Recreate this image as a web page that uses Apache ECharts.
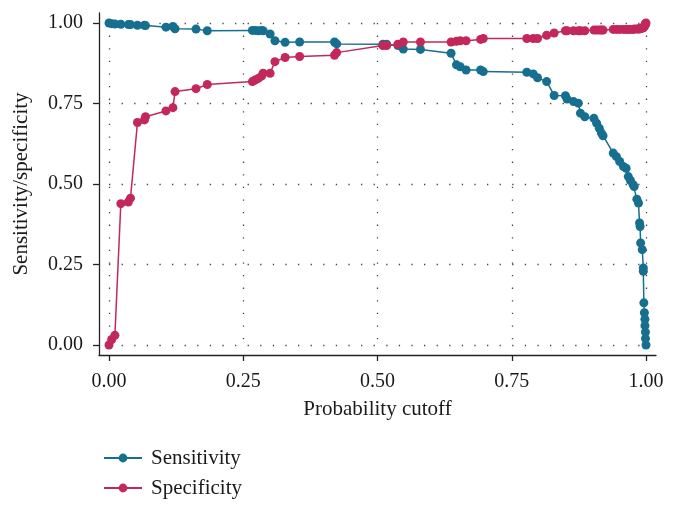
<!DOCTYPE html>
<html>
<head>
<meta charset="utf-8">
<script src="https://cdn.jsdelivr.net/npm/echarts@6/dist/echarts.min.js"></script>
<style>html,body{margin:0;padding:0;background:#fff}#c{width:676px;height:509px}</style>
</head>
<body>
<div id="c"></div>
<script>
// Probability cutoffs (shared by both curves)
var cutoffs = [0.000,0.005,0.011,0.022,0.036,0.040,0.053,0.066,0.068,0.106,0.119,0.123,0.162,0.183,
  0.267,0.272,0.278,0.284,0.287,0.300,0.309,0.328,0.355,0.420,0.424,0.510,0.517,0.538,0.548,0.580,
  0.637,0.647,0.654,0.665,0.692,0.697,0.778,0.790,0.798,0.815,0.829,0.850,0.853,0.865,0.874,0.878,
  0.886,0.903,0.908,0.913,0.917,0.920,0.939,0.945,0.951,0.958,0.963,0.967,0.971,0.976,0.978,0.983,
  0.986,0.988,0.989,0.990,0.993,0.995,0.995,0.996,0.997,0.998,0.998,0.999,0.999,1.000];
var sensitivity = [1.000,0.998,0.997,0.996,0.995,0.995,0.993,0.993,0.992,0.987,0.989,0.982,0.981,0.976,
  0.977,0.977,0.976,0.977,0.976,0.966,0.945,0.940,0.941,0.941,0.935,0.934,0.934,0.930,0.919,0.918,
  0.906,0.870,0.864,0.854,0.854,0.849,0.847,0.842,0.830,0.818,0.775,0.774,0.764,0.756,0.751,0.720,
  0.709,0.704,0.689,0.673,0.658,0.650,0.596,0.585,0.570,0.554,0.549,0.523,0.511,0.498,0.492,0.453,
  0.441,0.379,0.368,0.317,0.296,0.239,0.229,0.131,0.100,0.080,0.060,0.040,0.020,0.000];
var specificity = [0.000,0.017,0.030,0.439,0.444,0.456,0.691,0.699,0.709,0.727,0.737,0.787,0.796,0.809,
  0.818,0.823,0.828,0.835,0.844,0.844,0.880,0.893,0.896,0.900,0.908,0.930,0.930,0.934,0.941,0.941,
  0.941,0.943,0.945,0.945,0.949,0.952,0.952,0.952,0.952,0.962,0.969,0.976,0.976,0.976,0.976,0.976,
  0.976,0.978,0.978,0.978,0.978,0.978,0.980,0.980,0.980,0.980,0.980,0.980,0.980,0.980,0.981,0.981,
  0.981,0.982,0.982,0.983,0.984,0.985,0.986,0.988,0.990,0.992,0.994,0.996,0.998,1.000];
var tickValues = [0, 0.25, 0.5, 0.75, 1];
var seriesNames = ['Sensitivity', 'Specificity'];
var colors = ['#176F90', '#C2285A'];

function pairs(xs, ys){ return xs.map(function(x,i){ return [x, ys[i]]; }); }

var font = 'Liberation Serif';
var txt = '#1a1a1a';
var chart = echarts.init(document.getElementById('c'), null, {renderer:'canvas'});
var dotted = {show:true, lineStyle:{color:'#444', width:1.3, type:[1.3, 11.3]}};
var opt = {
  animation:false,
  backgroundColor:'#fff',
  grid:[
    {left:99, right:20, top:13, bottom:154},
    {left:109, right:30, top:23, bottom:164}
  ],
  xAxis:[
    {gridIndex:0, type:'value', min:-0.0186, max:1.0186,
     axisLine:{show:true, onZero:false, lineStyle:{color:'#222', width:1.3}},
     axisTick:{show:false}, axisLabel:{show:false}, splitLine:{show:false},
     name:'Probability cutoff', nameLocation:'middle', nameGap:44,
     nameTextStyle:{fontFamily:font, fontSize:21, color:txt}},
    {gridIndex:1, type:'value', min:0, max:1, interval:0.25, offset:10,
     axisLine:{show:false, onZero:false},
     axisTick:{show:true, length:6, lineStyle:{color:'#222', width:1.3}},
     axisLabel:{show:true, margin:17, fontFamily:font, fontSize:20, color:txt,
       formatter:function(v){ return v.toFixed(2); }},
     splitLine:dotted}
  ],
  yAxis:[
    {gridIndex:0, type:'value', min:-0.031, max:1.031,
     axisLine:{show:true, onZero:false, lineStyle:{color:'#222', width:1.3}},
     axisTick:{show:false}, axisLabel:{show:false}, splitLine:{show:false},
     name:'Sensitivity/specificity', nameLocation:'middle', nameGap:67, nameRotate:90,
     nameTextStyle:{fontFamily:font, fontSize:21, color:txt}},
    {gridIndex:1, type:'value', min:0, max:1, interval:0.25, offset:10,
     axisLine:{show:false, onZero:false},
     axisTick:{show:true, length:6, lineStyle:{color:'#222', width:1.3}},
     axisLabel:{show:true, margin:16, fontFamily:font, fontSize:20, color:txt,
       formatter:function(v){ return v.toFixed(2); }},
     splitLine:dotted}
  ],
  legend:{
    orient:'vertical', left:98, top:442, width:300, height:66,
    itemWidth:38, itemHeight:11, itemGap:8,
    textStyle:{fontFamily:font, fontSize:21, lineHeight:22, color:txt, padding:[0,0,0,4]},
    data:seriesNames
  },
  series:[
    {name:seriesNames[0], type:'line', xAxisIndex:1, yAxisIndex:1, clip:false,
     data:pairs(cutoffs, sensitivity), symbol:'circle', symbolSize:9, showAllSymbol:true,
     itemStyle:{color:colors[0]}, lineStyle:{color:colors[0], width:1.5}},
    {name:seriesNames[1], type:'line', xAxisIndex:1, yAxisIndex:1, clip:false,
     data:pairs(cutoffs, specificity), symbol:'circle', symbolSize:9, showAllSymbol:true,
     itemStyle:{color:colors[1]}, lineStyle:{color:colors[1], width:1.5}}
  ]
};
chart.setOption(opt);
</script>
</body>
</html>
